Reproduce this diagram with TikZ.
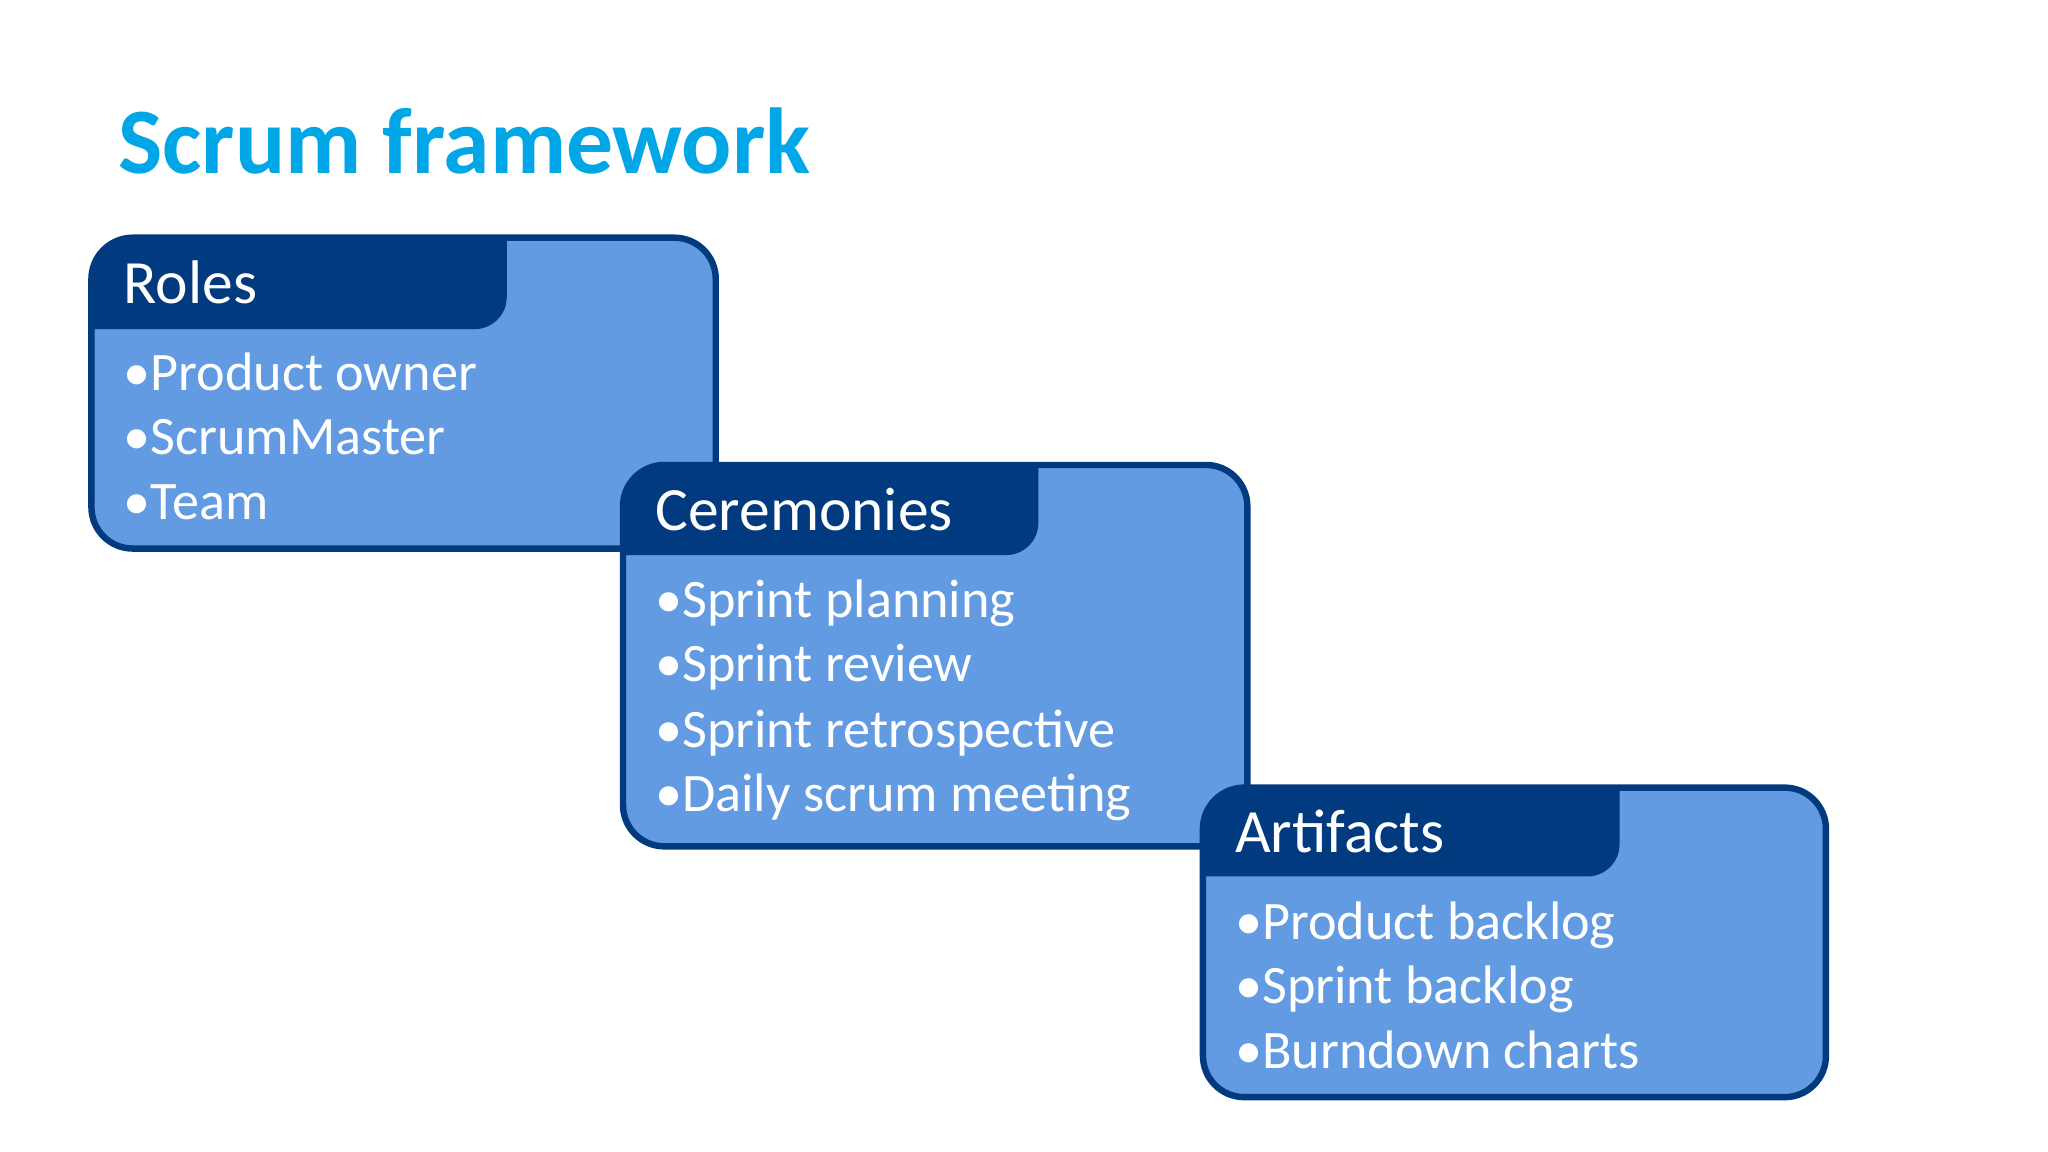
\documentclass[tikz,border=0pt]{standalone}
\usepackage{fontspec}
\setmainfont{Carlito}
\definecolor{boxfill}{HTML}{629BE1}
\definecolor{boxdark}{HTML}{023A80}
\definecolor{titlec}{HTML}{00A6E6}
\begin{document}
\begin{tikzpicture}[x=0.01cm,y=-0.01cm,
  hdr/.style={anchor=base west,text=white,font=\fontsize{13.4}{16}\selectfont,inner sep=0},
  itm/.style={anchor=base west,text=white,font=\fontsize{11.8}{14}\selectfont,inner sep=0}]
\useasboundingbox (0,0) rectangle (1568,882);
\newcommand{\scbox}[8]{% x0 y0 x1 y1 hx hy name title
  \begin{scope}
  \clip[rounded corners=9pt] (#1,#2) rectangle (#3,#4);
  \fill[boxfill] (#1,#2) rectangle (#3,#4);
  \fill[boxdark,rounded corners=7pt] (#1-60,#2-60) rectangle (#5,#6);
  \end{scope}
  \draw[boxdark,line width=1.4pt,rounded corners=9pt] (#1,#2) rectangle (#3,#4);
  \node[hdr] (#7) at (#1+24,#2+50) {#8};
}
\node[anchor=base west,text=titlec,font=\bfseries\fontsize{20.4}{24}\selectfont,inner sep=0] (title) at (90,133) {Scrum framework};
\scbox{70}{182}{548}{420}{388}{252}{roles}{Roles}
\node[itm] (r1) at (94,299) {•Product owner};
\node[itm] (r2) at (94,348) {•ScrumMaster};
\node[itm] (r3) at (94,398) {•Team};
\scbox{477}{356}{955}{648}{795}{425}{cer}{Ceremonies}
\node[itm] (c1) at (501,473) {•Sprint planning};
\node[itm] (c2) at (501,522) {•Sprint review};
\node[itm] (c3) at (501,572) {•Sprint retrospective};
\node[itm] (c4) at (501,621) {•Daily scrum meeting};
\scbox{921}{603}{1398}{840}{1240}{671}{art}{Artifacts}
\node[itm] (a1) at (945,719) {•Product backlog};
\node[itm] (a2) at (945,768) {•Sprint backlog};
\node[itm] (a3) at (945,818) {•Burndown charts};
\end{tikzpicture}
\end{document}
